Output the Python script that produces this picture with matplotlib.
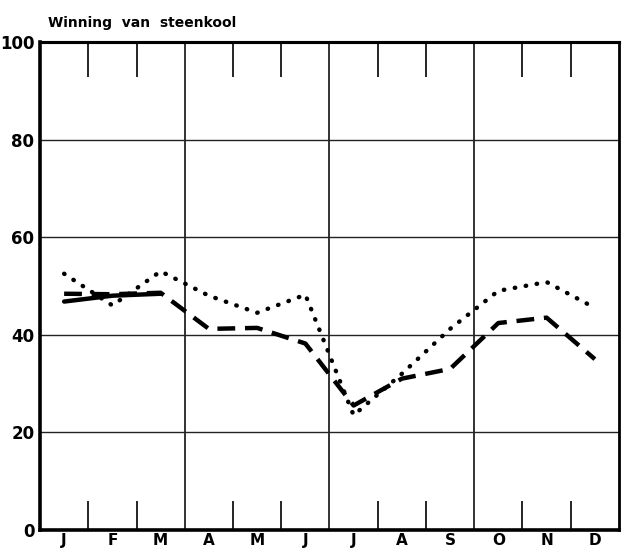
import matplotlib.pyplot as plt
import numpy as np

months = ['J', 'F', 'M', 'A', 'M', 'J', 'J', 'A', 'S', 'O', 'N', 'D']
# three series
solid = [46.8, 48.0, 48.4]
dashed = [48.4, 48.3, 48.6, 41.2, 41.4, 38.2, 25.5, 31.0, 33.0, 42.4, 43.5, 35.0]
dotted = [52.5, 46.0, 53.0, 48.0, 44.5, 48.2, 23.5, 32.0, 41.2, 49.0, 50.8, 45.5]
yticks = [0, 20, 40, 60, 80, 100]

x = np.arange(12) + 0.5

fig = plt.figure(figsize=(6.3, 5.52), dpi=100)
ax = fig.add_axes([0.0635, 0.04, 0.919, 0.884])
ax.set_xlim(0, 12)
ax.set_ylim(0, 100)

for v in yticks[1:-1]:
    ax.axhline(v, color='#222222', lw=1.0, zorder=1)
for q in [3, 6, 9]:
    ax.axvline(q, color='#222222', lw=1.3, zorder=1)

ax.plot(x[:len(solid)], solid, color='black', lw=3.2, solid_capstyle='round', zorder=3)
ax.plot(x, dashed, color='black', lw=3.2, dashes=(4, 2.2), zorder=3)
ax.plot(x, dotted, color='black', lw=3.2, linestyle=(0, (0.1, 2.4)),
        dash_capstyle='round', zorder=3)

# month boundaries as inward ticks, labels centred in each month
bounds = [b for b in range(1, 12) if b not in (3, 6, 9)]
ax.set_xticks(bounds)
ax.set_xticklabels([])
ax.set_xticks(x, minor=True)
ax.set_xticklabels(months, minor=True, fontsize=11, fontweight='bold')
ax.tick_params(axis='x', which='major', direction='in', length=21, width=1.2)
ax.tick_params(axis='x', which='minor', length=0, pad=2)

top = ax.secondary_xaxis('top')
top.set_xticks(bounds)
top.set_xticklabels([])
top.tick_params(direction='in', length=25, width=1.2)
top.spines['top'].set_linewidth(2.2)

ax.set_yticks(yticks)
ax.set_yticklabels([str(v) for v in yticks], fontsize=12, fontweight='bold')
ax.tick_params(axis='y', length=0, pad=4)

ax.spines['left'].set_linewidth(2.6)
ax.spines['bottom'].set_linewidth(2.6)
ax.spines['right'].set_linewidth(2.0)
ax.spines['top'].set_linewidth(2.2)

fig.text(0.076, 0.958, 'Winning  van  steenkool', fontsize=10, fontweight='semibold',
         ha='left', va='center')

fig.savefig('out.png', dpi=100)
